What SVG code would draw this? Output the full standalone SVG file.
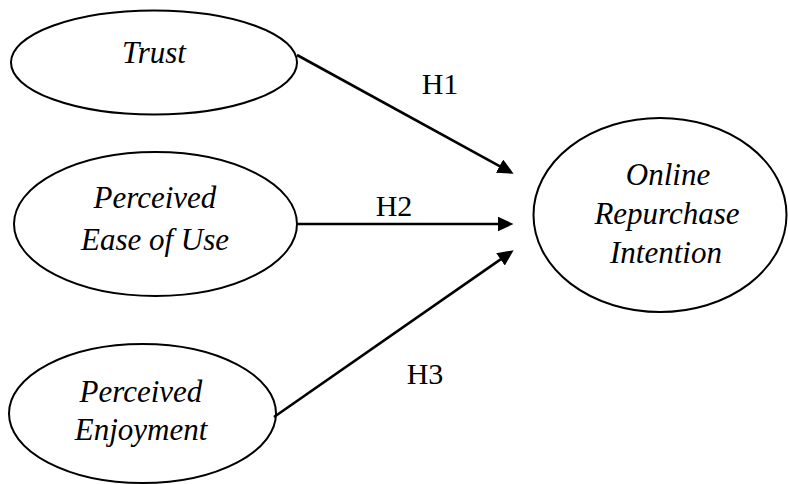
<svg xmlns="http://www.w3.org/2000/svg" width="788" height="484" viewBox="0 0 788 484">
<style>
.node{fill:#fff;stroke:#000;stroke-width:2}
text{font-family:'Liberation Serif','Times New Roman',Times,'DejaVu Serif',serif;fill:#000;text-anchor:middle}
.lbl{font-style:italic;font-size:31px}
.h{font-size:30px}
.conn{stroke:#000;stroke-width:2.6;fill:none}
</style>
<defs>
<marker id="arr" markerUnits="userSpaceOnUse" markerWidth="16" markerHeight="15" viewBox="0 0 16 15" refX="0.5" refY="7.5" orient="auto">
<path d="M0,0 L16,7.5 L0,15 z" fill="#000"/>
</marker>
</defs>
<rect width="788" height="484" fill="#fff"/>
<g id="trust">
<ellipse class="node" cx="154" cy="62.5" rx="143" ry="52"/>
<text class="lbl" x="154" y="63" font-family="Liberation Serif, serif">Trust</text>
</g>
<g id="peou">
<ellipse class="node" cx="155.5" cy="224" rx="141.5" ry="72"/>
<text class="lbl" x="155" y="208">Perceived</text>
<text class="lbl" x="155" y="250">Ease of Use</text>
</g>
<g id="pe">
<ellipse class="node" cx="142.5" cy="413.5" rx="133.5" ry="69.5"/>
<text class="lbl" x="141" y="402">Perceived</text>
<text class="lbl" x="141" y="440">Enjoyment</text>
</g>
<g id="ori">
<ellipse class="node" cx="660" cy="215" rx="126.5" ry="97"/>
<text class="lbl" x="668" y="185">Online</text>
<text class="lbl" x="667" y="224">Repurchase</text>
<text class="lbl" x="666" y="263">Intention</text>
</g>
<g id="connectors">
<line class="conn" x1="297" y1="55" x2="500" y2="166.3" marker-end="url(#arr)"/>
<line class="conn" x1="296" y1="224" x2="498" y2="224" marker-end="url(#arr)"/>
<line class="conn" x1="274" y1="417" x2="500.9" y2="259.1" marker-end="url(#arr)"/>
<text class="h" x="440" y="94">H1</text>
<text class="h" x="394" y="216">H2</text>
<text class="h" x="425" y="384">H3</text>
</g>
</svg>
